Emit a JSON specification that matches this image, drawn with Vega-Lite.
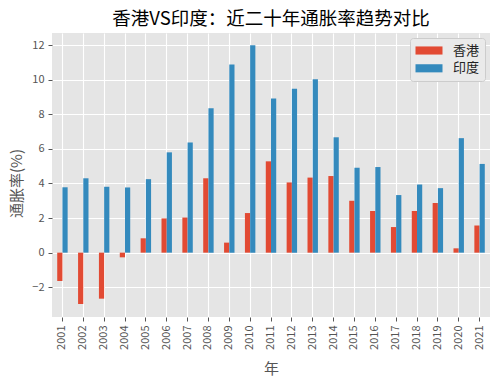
{
  "$schema": "https://vega.github.io/schema/vega-lite/v6.json",
  "width": 438,
  "height": 284,
  "autosize": {"type": "none"},
  "padding": {"left": 52, "top": 33, "right": 10, "bottom": 65},
  "background": "white",
  "config": {
    "font": "Noto Sans CJK SC",
    "view": {"fill": "#E5E5E5", "stroke": null}
  },
  "title": {
    "text": "香港VS印度：近二十年通胀率趋势对比",
    "fontSize": 18.5,
    "fontWeight": "normal",
    "color": "#000000",
    "anchor": "middle",
    "offset": 5
  },
  "data": {
    "values": [
      {"year": "2001", "region": "香港", "value": -1.64},
      {"year": "2001", "region": "印度", "value": 3.78},
      {"year": "2002", "region": "香港", "value": -2.97},
      {"year": "2002", "region": "印度", "value": 4.3},
      {"year": "2003", "region": "香港", "value": -2.66},
      {"year": "2003", "region": "印度", "value": 3.81},
      {"year": "2004", "region": "香港", "value": -0.27},
      {"year": "2004", "region": "印度", "value": 3.77},
      {"year": "2005", "region": "香港", "value": 0.83},
      {"year": "2005", "region": "印度", "value": 4.25},
      {"year": "2006", "region": "香港", "value": 1.98},
      {"year": "2006", "region": "印度", "value": 5.8},
      {"year": "2007", "region": "香港", "value": 2.03},
      {"year": "2007", "region": "印度", "value": 6.37},
      {"year": "2008", "region": "香港", "value": 4.3},
      {"year": "2008", "region": "印度", "value": 8.35},
      {"year": "2009", "region": "香港", "value": 0.58},
      {"year": "2009", "region": "印度", "value": 10.88},
      {"year": "2010", "region": "香港", "value": 2.29},
      {"year": "2010", "region": "印度", "value": 11.99},
      {"year": "2011", "region": "香港", "value": 5.28},
      {"year": "2011", "region": "印度", "value": 8.91},
      {"year": "2012", "region": "香港", "value": 4.06},
      {"year": "2012", "region": "印度", "value": 9.48},
      {"year": "2013", "region": "香港", "value": 4.34},
      {"year": "2013", "region": "印度", "value": 10.02},
      {"year": "2014", "region": "香港", "value": 4.43},
      {"year": "2014", "region": "印度", "value": 6.67},
      {"year": "2015", "region": "香港", "value": 3.0},
      {"year": "2015", "region": "印度", "value": 4.91},
      {"year": "2016", "region": "香港", "value": 2.41},
      {"year": "2016", "region": "印度", "value": 4.95},
      {"year": "2017", "region": "香港", "value": 1.48},
      {"year": "2017", "region": "印度", "value": 3.33},
      {"year": "2018", "region": "香港", "value": 2.41},
      {"year": "2018", "region": "印度", "value": 3.94},
      {"year": "2019", "region": "香港", "value": 2.87},
      {"year": "2019", "region": "印度", "value": 3.73},
      {"year": "2020", "region": "香港", "value": 0.25},
      {"year": "2020", "region": "印度", "value": 6.62},
      {"year": "2021", "region": "香港", "value": 1.57},
      {"year": "2021", "region": "印度", "value": 5.13}
    ]
  },
  "mark": {"type": "bar"},
  "encoding": {
    "x": {
      "field": "year",
      "type": "nominal",
      "scale": {"paddingInner": 0.5, "paddingOuter": 0.25},
      "axis": {
        "title": "年",
        "titleFontSize": 15,
        "titleFontWeight": "normal",
        "titleColor": "#555555",
        "titlePadding": 12,
        "labelAngle": 270,
        "labelFontSize": 11,
        "labelColor": "#555555",
        "labelPadding": 4,
        "tickColor": "#555555",
        "tickSize": 4,
        "domain": false,
        "grid": true,
        "gridColor": "#FFFFFF",
        "gridWidth": 1.1,
        "bandPosition": 0.5
      }
    },
    "xOffset": {
      "field": "region",
      "type": "nominal",
      "scale": {"domain": ["香港", "印度"]}
    },
    "y": {
      "field": "value",
      "type": "quantitative",
      "scale": {"domain": [-3.72, 12.7], "nice": false, "zero": false},
      "axis": {
        "title": "通胀率(%)",
        "titleFontSize": 15,
        "titleFontWeight": "normal",
        "titleColor": "#555555",
        "titleX": -28,
        "titleY": 150,
        "values": [-2, 0, 2, 4, 6, 8, 10, 12],
        "labelFontSize": 11,
        "labelColor": "#555555",
        "labelPadding": 4,
        "tickColor": "#555555",
        "tickSize": 4,
        "domain": false,
        "grid": true,
        "gridColor": "#FFFFFF",
        "gridWidth": 1.1
      }
    },
    "color": {
      "field": "region",
      "type": "nominal",
      "scale": {"domain": ["香港", "印度"], "range": ["#E24A33", "#348ABD"]},
      "legend": {
        "title": null,
        "orient": "top-right",
        "offset": 5,
        "padding": 5.5,
        "fillColor": "#EAEAEA",
        "strokeColor": "#CCCCCC",
        "cornerRadius": 3,
        "symbolType": "M-1,-0.58H2.857V0.58H-1Z",
        "symbolSize": 196,
        "symbolStrokeWidth": 0,
        "symbolOpacity": 1,
        "labelFontSize": 13,
        "labelColor": "#222222",
        "labelOffset": 23.5,
        "rowPadding": 3.8
      }
    }
  }
}
